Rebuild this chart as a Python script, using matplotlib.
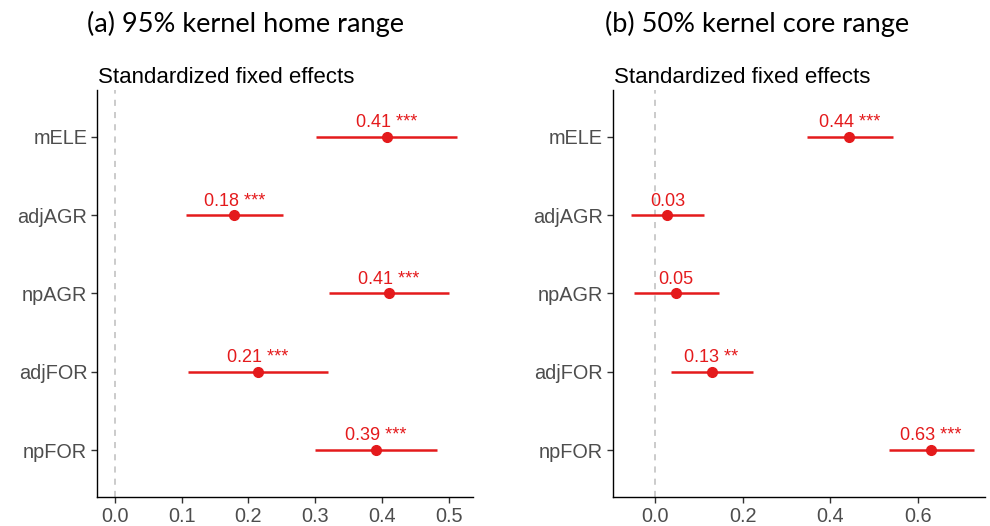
import matplotlib.pyplot as plt
import numpy as np

plt.rcParams['font.family'] = ['Liberation Sans', 'DejaVu Sans']

# predictors, top to bottom
terms = ['mELE', 'adjAGR', 'npAGR', 'adjFOR', 'npFOR']

# (a) 95% kernel home range
est_a = [0.407, 0.179, 0.411, 0.214, 0.391]
lo_a = [0.301, 0.107, 0.321, 0.110, 0.300]
hi_a = [0.513, 0.252, 0.501, 0.319, 0.482]
lab_a = ['0.41', '0.18', '0.41', '0.21', '0.39']
star_a = ['***', '***', '***', '***', '***']

# (b) 50% kernel core range
est_b = [0.444, 0.028, 0.048, 0.129, 0.630]
lo_b = [0.346, -0.056, -0.049, 0.036, 0.535]
hi_b = [0.544, 0.112, 0.145, 0.223, 0.729]
lab_b = ['0.44', '0.03', '0.05', '0.13', '0.63']
star_b = ['***', '', '', '**', '***']

RED = '#E41A1C'
GREY = '#4D4D4D'


def forest(ax, est, lo, hi, labels, stars, xlim, xticks, title, title_x):
    y = np.arange(len(terms))[::-1] + 1
    ax.axvline(0, color='#BDBDBD', lw=1.1, ls=(0, (4, 4)), zorder=1)
    ax.hlines(y, lo, hi, color=RED, lw=1.8, zorder=2)
    ax.plot(est, y, 'o', color=RED, ms=7, zorder=3)
    for xi, yi, lab, st in zip(est, y, labels, stars):
        txt = (lab + ' ' + st).strip()
        ax.annotate(txt, (xi, yi), xytext=(0, 4), textcoords='offset points',
                    ha='center', va='bottom', color=RED, fontsize=13)
    ax.set_xlim(*xlim)
    ax.set_ylim(0.4, len(terms) + 0.6)
    ax.set_xticks(xticks)
    ax.set_xticklabels(['%.1f' % t for t in xticks])
    ax.set_yticks(y)
    ax.set_yticklabels(terms)
    for sp in ['top', 'right']:
        ax.spines[sp].set_visible(False)
    for sp in ['left', 'bottom']:
        ax.spines[sp].set_linewidth(1.0)
    ax.tick_params(colors='#333333', labelcolor=GREY, labelsize=14.3,
                   length=4, width=1.0, pad=3)
    ax.text(0.003, 1.005, 'Standardized fixed effects', transform=ax.transAxes,
            fontsize=16, ha='left', va='bottom')
    ax.figure.text(title_x, 0.955, title, fontsize=19.5, family='Lato',
                   ha='left', va='center')


fig = plt.figure(figsize=(9.9, 5.26), dpi=100)
ax1 = fig.add_axes([0.098, 0.0551, 0.380, 0.774])
ax2 = fig.add_axes([0.619, 0.0551, 0.376, 0.774])

forest(ax1, est_a, lo_a, hi_a, lab_a, star_a, (-0.027, 0.537),
       [0.0, 0.1, 0.2, 0.3, 0.4, 0.5], '(a) 95% kernel home range', 0.088)
forest(ax2, est_b, lo_b, hi_b, lab_b, star_b, (-0.0967, 0.754),
       [0.0, 0.2, 0.4, 0.6], '(b) 50% kernel core range', 0.611)

fig.savefig('out.png', dpi=100)
